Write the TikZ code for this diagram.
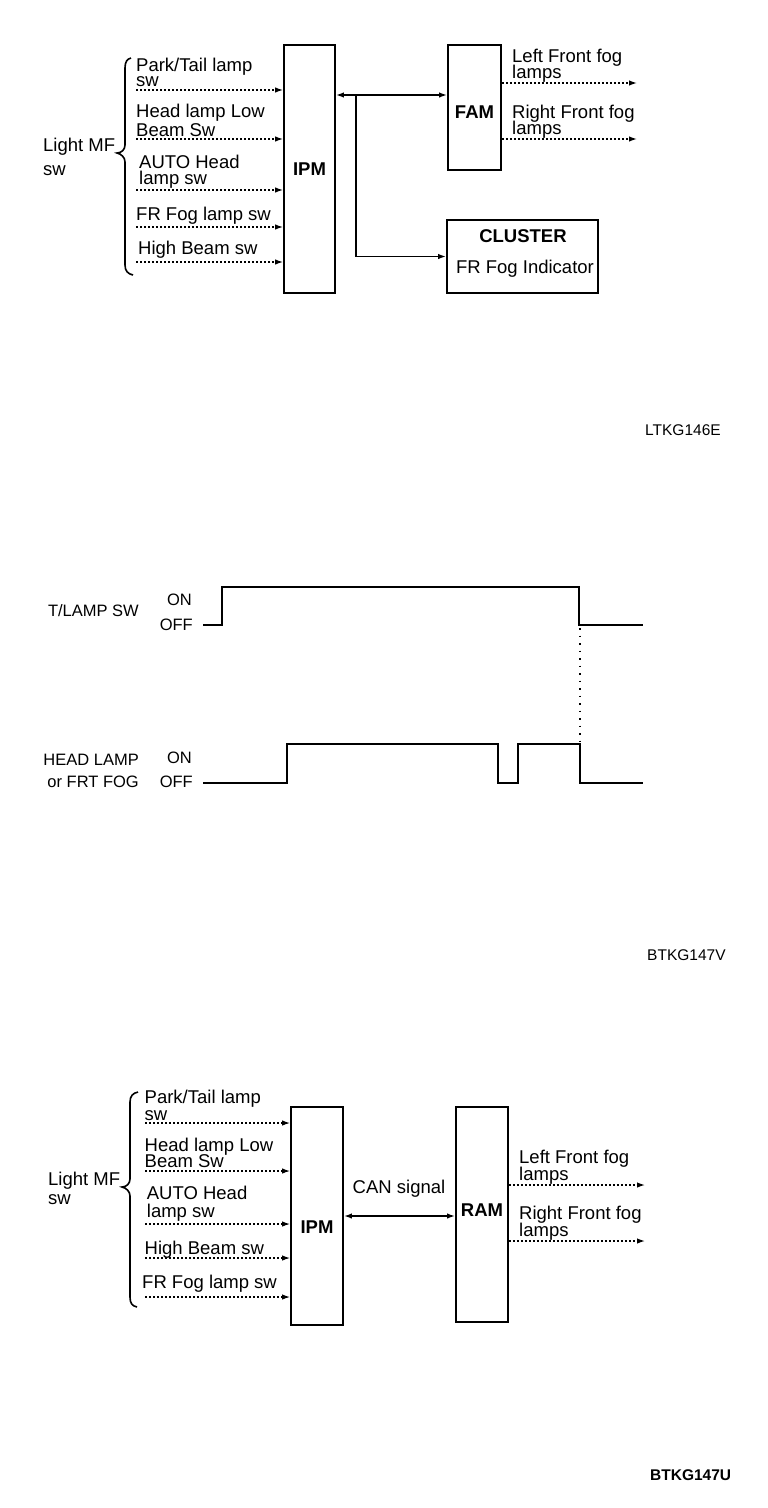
\documentclass[tikz,border=0pt]{standalone}
\usepackage{fontspec}
\setmainfont{Liberation Sans}
\usetikzlibrary{arrows.meta,calc}
\tikzset{
  >={Latex[length=8pt,width=5.5pt]},
  box/.style={draw, line width=1.8pt, inner sep=0pt, font=\bfseries\fontsize{18.5}{20}\selectfont},
  lbl/.style={anchor=base west, inner sep=0pt, font=\fontsize{18.5}{20}\selectfont},
  lblup/.style={lbl, text depth=0pt},
  clbl/.style={anchor=base, inner sep=0pt, font=\fontsize{18.5}{20}\selectfont},
  tlbl/.style={anchor=base east, inner sep=0pt, font=\fontsize{16.5}{18}\selectfont},
  code/.style={anchor=base west, inner sep=0pt, font=\fontsize{15.5}{18}\selectfont},
  dotarrow/.style={line width=1.3pt, dash pattern=on 2pt off 2pt, ->},
  bus/.style={line width=1.8pt},
  brc/.style={line width=1.6pt},
  wave/.style={line width=2.2pt, line join=miter},
  guide/.style={line width=1.3pt, dash pattern=on 1.5pt off 6pt},
}
\begin{document}
\begin{tikzpicture}[x=1pt,y=-1pt]
\useasboundingbox (0,0) rectangle (768,1508);
\fill[white] (0,0) rectangle (768,1508);

% ================= Top diagram =================
\node[box, minimum width=51pt, minimum height=248pt] (ipmA) at (309.5,169) {IPM};
\node[box, minimum width=53pt, minimum height=125pt, text height=22pt, text depth=0pt] (fam) at (474.5,107.5) {FAM};
\node[box, minimum width=151pt, minimum height=73pt] (cluster) at (522.5,256.5) {};
\node[clbl, font=\bfseries\fontsize{18.5}{20}\selectfont] (clt) at (523,242) {CLUSTER};
\node[clbl] (cli) at (525,273) {FR Fog Indicator};

% brace and group label
\draw[brc] (131,58) .. controls (127,59) and (125,62) .. (125,68) -- (125,145)
  .. controls (125,150) and (121,153) .. (117,153)
  .. controls (121,154) and (125,157) .. (125,162) -- (125,265)
  .. controls (125,271) and (128,274) .. (133,275);
\node[lbl] (lmfA) at (43,151.7) {Light MF};
\node[lbl] (lmfA2) at (43,175) {sw};

% input labels
\node[lblup] (ta1) at (136,71) {Park/Tail lamp};
\node[lbl] (ta1b) at (136,86.5) {sw};
\node[lblup] (ta2) at (136,117) {Head lamp Low};
\node[lbl] (ta2b) at (136,136) {Beam Sw};
\node[lblup] (ta3) at (139,168) {AUTO Head};
\node[lbl] (ta3b) at (139,184.5) {lamp sw};
\node[lbl] (ta4) at (136,220) {FR Fog lamp sw};
\node[lbl] (ta5) at (138,254) {High Beam sw};

% input arrows
\coordinate (ia1) at (136,90);
\coordinate (ia2) at (136,139);
\coordinate (ia3) at (136,190);
\coordinate (ia4) at (136,227);
\coordinate (ia5) at (136,262);
\foreach \c in {ia1,ia2,ia3,ia4,ia5}{
  \draw[dotarrow] (\c) -- (\c -| ipmA.west);
}

% bus
\coordinate (busy) at (0,95);
\coordinate (br) at (356,95);
\draw[bus, <->] (ipmA.east |- busy) -- (fam.west |- busy);
\draw[bus, ->] (br) |- (cluster.west);

% FAM outputs
\coordinate (fo1) at (637,83);
\coordinate (fo2) at (637,139);
\draw[dotarrow] (fam.east |- fo1) -- (fo1);
\draw[dotarrow] (fam.east |- fo2) -- (fo2);
\node[lblup] (fl1) at (512,62.5) {Left Front fog};
\node[lbl] (fl1b) at (512,78.5) {lamps};
\node[lblup] (fl2) at (512,118) {Right Front fog};
\node[lbl] (fl2b) at (512,134.5) {lamps};

\node[code] (codeA) at (645,435) {LTKG146E};

% ================= Timing diagram =================
\node[tlbl] (tl1) at (139,616) {T/LAMP SW};
\node[tlbl] (tl1on) at (192,605) {ON};
\node[tlbl] (tl1off) at (193,630) {OFF};
\node[tlbl] (tl2) at (139,765) {HEAD LAMP};
\node[tlbl] (tl2b) at (139,787) {or FRT FOG};
\node[tlbl] (tl2on) at (192,763) {ON};
\node[tlbl] (tl2off) at (193,787) {OFF};

\draw[wave] (203,625) -- (222,625) -- (222,587) -- (579,587) -- (579,625) -- (643,625);
\draw[wave] (203,783) -- (287,783) -- (287,744) -- (498,744) -- (498,783) -- (518,783)
  -- (518,744) -- (580,744) -- (580,783) -- (643,783);
\draw[guide] (580,628) -- (580,742);

\node[code] (codeB) at (647,960) {BTKG147V};

% ================= Bottom diagram =================
\node[box, minimum width=52pt, minimum height=218pt, text height=35pt, text depth=0pt] (ipmB) at (317,1216) {IPM};
\node[box, minimum width=52pt, minimum height=215pt, text height=4pt, text depth=0pt] (ram) at (482,1214.5) {RAM};

\draw[brc] (138,1092) .. controls (133,1093) and (130,1096) .. (130,1102) -- (130,1179)
  .. controls (130,1184) and (126,1187) .. (122,1187)
  .. controls (126,1188) and (130,1191) .. (130,1196) -- (130,1297)
  .. controls (130,1303) and (132,1306) .. (137,1307);
\node[lbl] (lmfB) at (48,1185) {Light MF};
\node[lbl] (lmfB2) at (48,1204) {sw};

\node[lblup] (tb1) at (144.5,1103.5) {Park/Tail lamp};
\node[lbl] (tb1b) at (144.5,1120) {sw};
\node[lblup] (tb2) at (144.5,1151) {Head lamp Low};
\node[lbl] (tb2b) at (144.5,1167) {Beam Sw};
\node[lblup] (tb3) at (146.7,1199) {AUTO Head};
\node[lbl] (tb3b) at (146.7,1217) {lamp sw};
\node[lbl] (tb4) at (144.5,1254) {High Beam sw};
\node[lbl] (tb5) at (142,1288) {FR Fog lamp sw};

\coordinate (ib1) at (145,1123);
\coordinate (ib2) at (145,1171);
\coordinate (ib3) at (145,1224);
\coordinate (ib4) at (145,1258);
\coordinate (ib5) at (145,1297);
\foreach \c in {ib1,ib2,ib3,ib4,ib5}{
  \draw[dotarrow] (\c) -- (\c -| ipmB.west);
}

\coordinate (cany) at (0,1216);
\draw[bus, <->] (ipmB.east |- cany) -- (ram.west |- cany);
\node[clbl] (can) at (399,1193) {CAN signal};

\coordinate (ro1) at (645,1185);
\coordinate (ro2) at (645,1241);
\draw[dotarrow] (ram.east |- ro1) -- (ro1);
\draw[dotarrow] (ram.east |- ro2) -- (ro2);
\node[lblup] (rl1) at (519,1163) {Left Front fog};
\node[lbl] (rl1b) at (519,1180) {lamps};
\node[lblup] (rl2) at (519,1219) {Right Front fog};
\node[lbl] (rl2b) at (519,1236) {lamps};

\node[code, font=\bfseries\fontsize{15.5}{18}\selectfont] (codeC) at (650,1480) {BTKG147U};
\end{tikzpicture}
\end{document}
